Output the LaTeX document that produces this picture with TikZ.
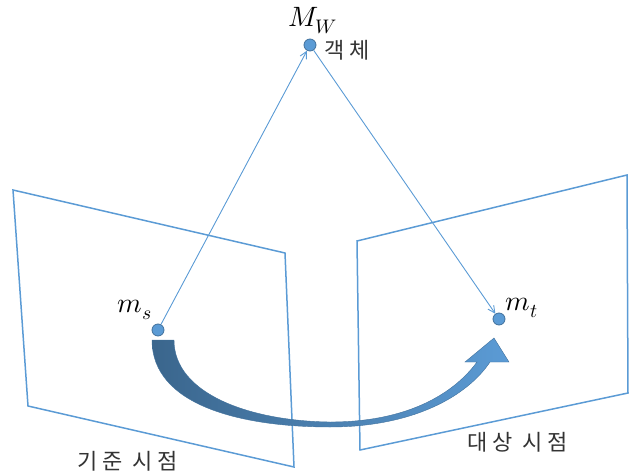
\documentclass[tikz,border=0pt]{standalone}
\usepackage{fontspec}
\usepackage{unicode-math}
\setmathfont{Latin Modern Math}
\newfontfamily\kofont[LetterSpace=22]{Noto Sans CJK KR}
\usetikzlibrary{arrows.meta}
\definecolor{lblue}{HTML}{5B9BD5}
\definecolor{dblue}{HTML}{41719C}
\tikzset{
  plane/.style={draw=lblue, line width=1.5pt, line join=miter},
  dot/.style={circle, fill=lblue, draw=dblue, line width=0.8pt, minimum size=12pt, inner sep=0pt},
  conn/.style={draw=lblue, line width=0.9pt, -{Straight Barb[length=7pt,width=7pt]}},
  kolabel/.style={font=\kofont\fontsize{22}{26}\selectfont, text=black!80, inner sep=0pt},
  mathlabel/.style={font=\fontsize{28}{32}\selectfont, inner sep=0pt}
}
\begin{document}
\begin{tikzpicture}[x=1pt,y=-1pt]
\useasboundingbox (0,0) rectangle (633,472);
% planes
\draw[plane] (13,190) -- (285,253) -- (294,467) -- (28,406) -- cycle;
\draw[plane] (357,241) -- (627,175) -- (628,393) -- (360,450) -- cycle;
% curved arrow
\path[left color=dblue!90!black, right color=lblue, draw=dblue, line width=0.4pt]
  (152,340) -- (174,340)
  .. controls (174,394) and (250,421) .. (330,422)
  .. controls (410,422) and (455,392) .. (477,362)
  -- (465,362) -- (494,338) -- (509,362) -- (490,362)
  .. controls (468,395) and (415,427) .. (330,427)
  .. controls (240,427) and (152,405) .. (152,340) -- cycle;
% dots
\node[dot] (MW) at (310,45) {};
\node[dot] (ms) at (158,330) {};
\node[dot] (mt) at (499,319) {};
% connectors
\draw[conn] (ms) -- (MW);
\draw[conn] (MW) -- (mt);
% labels
\node[mathlabel] (lMW) at (313,21) {$M_W$};
\node[mathlabel] (lms) at (135,310) {$m_s$};
\node[mathlabel] (lmt) at (522,308) {$m_t$};
\node[kolabel] (obj) at (347,50) {객체};
\node[kolabel] (src) at (128,461) {기준 시점};
\node[kolabel] (tgt) at (518,442) {대상 시점};
\end{tikzpicture}
\end{document}
